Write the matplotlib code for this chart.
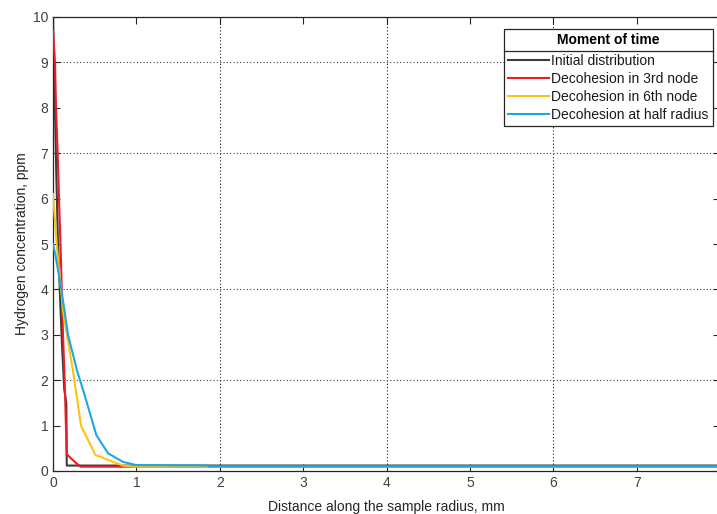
import matplotlib
matplotlib.use("Agg")
import matplotlib.pyplot as plt
from matplotlib.lines import Line2D

plt.rcParams['font.family'] = ['Liberation Sans', 'DejaVu Sans']

# ---- data ----
init_x = [0, 0.02, 0.04, 0.06, 0.085, 0.11, 0.135, 0.16, 0.165, 8]
init_y = [10, 8.3, 6.5, 5.0, 3.8, 2.7, 1.8, 1.5, 0.12, 0.12]

red_x = [0, 0.024, 0.036, 0.056, 0.072, 0.09, 0.105, 0.12, 0.14, 0.155, 0.165, 0.25, 0.33, 8]
red_y = [9.7, 9.0, 8.0, 7.0, 6.0, 5.0, 4.0, 3.0, 2.0, 1.0, 0.37, 0.22, 0.095, 0.095]

yel_x = [0, 0.05, 0.124, 0.24, 0.336, 0.51, 0.56, 0.72, 0.84, 1.0, 8]
yel_y = [6.1, 4.87, 3.48, 2.2, 1.0, 0.35, 0.32, 0.2, 0.12, 0.095, 0.095]

blu_x = [0, 0.03, 0.1, 0.18, 0.29, 0.38, 0.52, 0.66, 0.84, 1.0, 1.86, 1.87, 8]
blu_y = [5.0, 4.75, 4.0, 3.0, 2.2, 1.67, 0.79, 0.39, 0.2, 0.13, 0.12, 0.1, 0.1]

labels = ["Initial distribution", "Decohesion in 3rd node",
          "Decohesion in 6th node", "Decohesion at half radius"]
colors = ["#3c3c3c", "#ee1c25", "#ffc20e", "#1aa7e6"]
x_ticks = [0, 1, 2, 3, 4, 5, 6, 7, 8]
y_ticks = [0, 1, 2, 3, 4, 5, 6, 7, 8, 9, 10]
grid_x = [2, 4, 6]
grid_y = [2, 4, 7, 9]

W, H = 717, 514
fig = plt.figure(figsize=(W / 100, H / 100), dpi=100)
ax = fig.add_axes([53 / W, 43 / H, (720 - 53) / W, (471 - 17) / H])

for gx in grid_x:
    ax.axvline(gx, color="#202020", linestyle=(0, (1, 2)), linewidth=0.8, zorder=1)
for gy in grid_y:
    ax.axhline(gy, color="#404040", linestyle=(0, (1, 2)), linewidth=0.8, zorder=1)

series = [(init_x, init_y), (red_x, red_y), (yel_x, yel_y), (blu_x, blu_y)]
handles = []
for (xs, ys), c, lab in zip(series, colors, labels):
    h, = ax.plot(xs, ys, color=c, linewidth=1.5, label=lab, zorder=3)
    handles.append(h)
handles[0].set_zorder(2.5)
handles[1].set_zorder(3)
handles[2].set_zorder(3.2)
handles[3].set_zorder(3.4)

ax.set_xlim(0, 8)
ax.set_ylim(0, 10)
ax.set_xticks(x_ticks)
ax.set_yticks(y_ticks)
ax.tick_params(direction="in", length=5, width=0.8, colors="#262626",
               labelcolor="#404040", labelsize=10, top=True, right=True)
for s in ax.spines.values():
    s.set_color("#262626")
    s.set_linewidth(0.9)

ax.set_xlabel("Distance along the sample radius, mm", fontsize=10,
              color="#262626", labelpad=7.5)
ax.set_ylabel("Hydrogen concentration, ppm", fontsize=10,
              color="#262626", labelpad=3)

leg = ax.legend(handles=handles, labels=labels, title="Moment of time",
                loc="upper right", bbox_to_anchor=(713 / W, 1 - 29 / H),
                bbox_transform=fig.transFigure, borderaxespad=0,
                fancybox=False, edgecolor="#262626", framealpha=1,
                fontsize=10, handlelength=3.0, handletextpad=0.15,
                labelspacing=0.28, borderpad=0.3)
leg.get_frame().set_linewidth(0.9)
leg.get_title().set_fontweight("bold")
leg.get_title().set_fontsize(10)
leg._legend_box.sep = 5.0
for t in leg.get_texts():
    t.set_color("#1a1a1a")

fig.canvas.draw()
bb = leg.get_window_extent()
tb = leg.get_title().get_window_extent()
first = leg.get_texts()[0].get_window_extent()
ysep = ((tb.y0 + first.y1) / 2) / H
fig.add_artist(Line2D([bb.x0 / W, bb.x1 / W], [ysep, ysep],
                      transform=fig.transFigure, color="#262626", linewidth=0.9))

fig.savefig("out.png", dpi=100)
